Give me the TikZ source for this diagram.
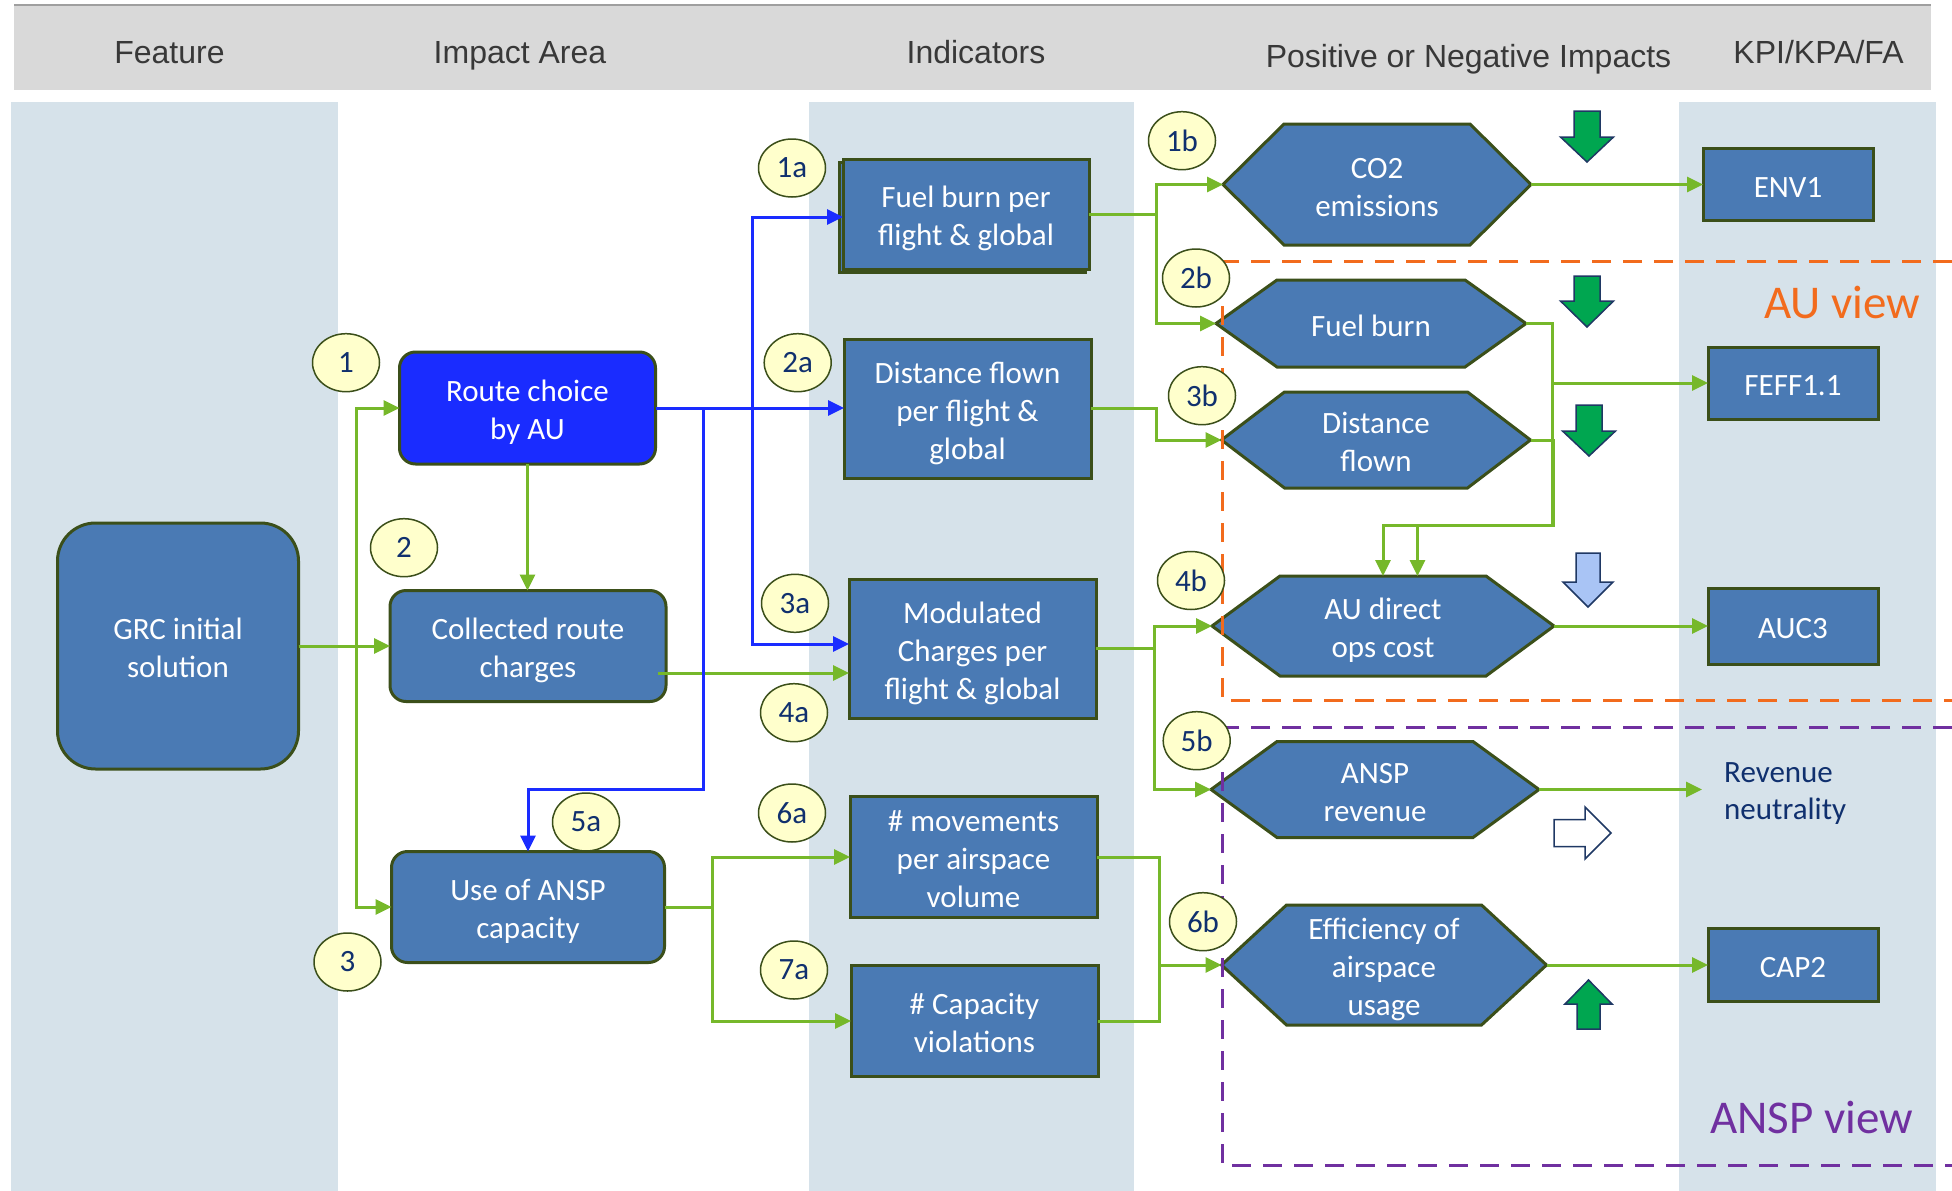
\documentclass[tikz,border=0pt]{standalone}
\usepackage{fontspec}
\setmainfont{Carlito}
\newfontfamily\hdrfont{Liberation Sans}
\usetikzlibrary{arrows.meta,calc,shapes.geometric}

\definecolor{colbg}{HTML}{D6E2EA}
\definecolor{hdrbg}{HTML}{D9D9D9}
\definecolor{boxfill}{HTML}{4A7AB4}
\definecolor{boxedge}{HTML}{3B4F1A}
\definecolor{routeblue}{HTML}{1A2CFF}
\definecolor{linkgreen}{HTML}{76B82A}
\definecolor{linkblue}{HTML}{1A2CFF}
\definecolor{tagfill}{HTML}{FFFFCC}
\definecolor{tagtext}{HTML}{10306E}
\definecolor{auorange}{HTML}{F26B1D}
\definecolor{ansppurple}{HTML}{7030A0}
\definecolor{upgreen}{HTML}{00A650}
\definecolor{arrowedge}{HTML}{1F3864}
\definecolor{paleblue}{HTML}{A9C4F5}
\definecolor{hdrtext}{HTML}{383838}

\pgfdeclarelayer{back}
\pgfdeclarelayer{hex}
\pgfsetlayers{back,hex,main}

% uniform line boxes for the text inside boxes and hexagons
\newcommand\ts{\rule{0pt}{31pt}}
\newcommand\bs{\rule[-6pt]{0pt}{6pt}}

% hexagon outline around a (borderless) text node; #2 = horizontal inset of the corners
\newcommand\hexframe[2]{%
  \begin{pgfonlayer}{hex}
  \path[hexline] (#1.west) -- ($(#1.north west)+(#2,0)$) -- ($(#1.north east)+(-#2,0)$)
     -- (#1.east) -- ($(#1.south east)+(-#2,0)$) -- ($(#1.south west)+(#2,0)$) -- cycle;
  \end{pgfonlayer}}

\tikzset{
  boxtext/.style={text=white, font=\fontsize{31}{38}\selectfont, align=center,
                  inner sep=0pt, outer sep=0pt},
  sbox/.style={boxtext, draw=boxedge, line width=3pt, fill=boxfill},
  rbox/.style={sbox, rounded corners=16pt},
  hexnode/.style={boxtext},
  hexline/.style={draw=boxedge, line width=3pt, fill=boxfill, line join=miter},
  tag/.style={ellipse, draw=boxedge, line width=1.5pt, fill=tagfill, text=tagtext,
              minimum width=67pt, minimum height=58pt, inner sep=0pt,
              font=\fontsize{31}{37}\selectfont},
  glink/.style={draw=linkgreen, line width=3pt},
  garrow/.style={glink, -{Triangle[length=16pt,width=15pt]}},
  blink/.style={draw=linkblue, line width=3pt},
  barrow/.style={blink, -{Triangle[length=16pt,width=15pt]}},
  viewline/.style={line width=3pt, dash pattern=on 19pt off 12pt},
  impact/.style={draw=arrowedge, line width=1.5pt, line join=miter},
  hdr/.style={font=\hdrfont\fontsize{32}{38}\selectfont, text=hdrtext, anchor=base,
              inner sep=0pt},
}

\begin{document}
\begin{tikzpicture}[x=1pt,y=-1pt]
\useasboundingbox (0,0) rectangle (1952,1191);

% ---------- background bands ----------
\begin{pgfonlayer}{back}
  \fill[white] (0,0) rectangle (1952,1191);
  \fill[hdrbg] (14,4) rectangle (1931,90);
  \draw[gray!75, line width=2pt] (14,5) -- (1931,5);
  \fill[colbg] (11,102) rectangle (338,1191);
  \fill[colbg] (809,102) rectangle (1134,1191);
  \fill[colbg] (1679,102) rectangle (1936,1191);
\end{pgfonlayer}

% ---------- column headers ----------
\node[hdr] (hfeature) at (169.5,63) {Feature};
\node[hdr] (himpact)  at (520,63) {Impact Area};
\node[hdr] (hind)     at (976,63) {Indicators};
\node[hdr] (hposneg)  at (1468.5,67) {Positive or Negative Impacts};
\node[hdr] (hkpi)     at (1818.5,63) {KPI/KPA/FA};

% ---------- feature and impact areas ----------
\node[sbox, rounded corners=38pt, minimum width=241pt, minimum height=246pt] (grc) at (178,646) {\ts GRC initial\\solution\bs};
\node[rbox, fill=routeblue, minimum width=256pt, minimum height=112pt] (route) at (527.5,408) {\ts Route choice\\by AU\bs};
\node[rbox, minimum width=276pt, minimum height=111pt] (coll) at (528,646) {\ts Collected route\\charges\bs};
\node[rbox, minimum width=273pt, minimum height=111pt] (use) at (528,907) {\ts Use of ANSP\\capacity\bs};

% ---------- indicators ----------
\node[sbox, minimum width=246pt, minimum height=110pt] (fuelbox) at (966,214) {\ts Fuel burn per\\flight \& global\bs};
\begin{pgfonlayer}{hex}
  \draw[boxedge, line width=3pt, fill=boxfill] ($(fuelbox.north west)+(-4,3)$) rectangle ($(fuelbox.south east)+(-4,3)$);
\end{pgfonlayer}
\node[sbox, minimum width=247pt, minimum height=139pt] (distbox) at (967.5,408.5) {\ts Distance flown\\per flight \&\\global\bs};
\node[sbox, minimum width=247pt, minimum height=139pt] (modbox) at (972.5,648.5) {\ts Modulated\\Charges per\\flight \& global\bs};
\node[sbox, minimum width=247pt, minimum height=121pt] (movbox) at (973.5,857) {\ts\# movements\\per airspace\\volume\bs};
\node[sbox, minimum width=247pt, minimum height=111pt] (capbox) at (974.5,1021) {\ts\# Capacity\\violations\bs};

% ---------- impacts (hexagons) ----------
\node[hexnode, minimum width=308pt, minimum height=121pt] (co2) at (1377,184.5) {\ts CO2\\emissions\bs};
\hexframe{co2}{61}
\node[hexnode, minimum width=310pt, minimum height=87pt] (fuelhex) at (1371,323.5) {\ts Fuel burn\bs};
\hexframe{fuelhex}{61}
\node[hexnode, minimum width=309pt, minimum height=96pt] (disthex) at (1376,440) {\ts Distance\\flown\bs};
\hexframe{disthex}{63}
\node[hexnode, minimum width=342pt, minimum height=100pt] (aucost) at (1383,626) {\ts AU direct\\ops cost\bs};
\hexframe{aucost}{68}
\node[hexnode, minimum width=328pt, minimum height=96pt] (ansprev) at (1375,789.5) {\ts ANSP\\revenue\bs};
\hexframe{ansprev}{66}
\node[hexnode, minimum width=325pt, minimum height=120pt] (effic) at (1384,965) {\ts Efficiency of\\airspace\\usage\bs};
\hexframe{effic}{65}

% ---------- KPIs ----------
\node[sbox, minimum width=170pt, minimum height=72pt] (env1) at (1788,184.5) {\ts ENV1\bs};
\node[sbox, minimum width=170pt, minimum height=72pt] (feff) at (1793,383) {\ts FEFF1.1\bs};
\node[sbox, minimum width=170pt, minimum height=76pt] (auc3) at (1793,626) {\ts AUC3\bs};
\node[sbox, minimum width=170pt, minimum height=73pt] (cap2) at (1793,965) {\ts CAP2\bs};
\node[font=\fontsize{31}{37}\selectfont, text=tagtext, align=left, anchor=west, inner sep=0pt] (revn) at (1724,794) {Revenue\\neutrality};

% ---------- positive / negative impact arrows ----------
\path[impact, fill=upgreen] (1574,111) -- (1600,111) -- (1600,137) -- (1613.5,137) -- (1587,162) -- (1560.5,137) -- (1574,137) -- cycle;
\path[impact, fill=upgreen] (1574,276) -- (1600,276) -- (1600,301) -- (1613.5,301) -- (1587,327) -- (1560.5,301) -- (1574,301) -- cycle;
\path[impact, fill=upgreen] (1576,405) -- (1602,405) -- (1602,431) -- (1615.5,431) -- (1589,456) -- (1562.5,431) -- (1576,431) -- cycle;
\path[impact, fill=paleblue] (1576,553) -- (1600,553) -- (1600,582) -- (1613,582) -- (1588,607) -- (1563,582) -- (1576,582) -- cycle;
\path[impact, fill=white] (1554,819.5) -- (1585,819.5) -- (1585,807) -- (1611,833) -- (1585,859) -- (1585,846.5) -- (1554,846.5) -- cycle;
\path[impact, fill=upgreen] (1577,1029) -- (1600,1029) -- (1600,1004) -- (1612,1004) -- (1588.5,980) -- (1565,1004) -- (1577,1004) -- cycle;

% ---------- stakeholder views ----------
\draw[viewline, auorange] (1952,261) -- (1222,261) -- (1222,700) -- (1952,700);
\draw[viewline, ansppurple] (1952,727) -- (1222,727) -- (1222,1165) -- (1952,1165);
\node[anchor=base west, inner sep=0pt, text=auorange, font=\fontsize{47}{56}\selectfont] (auview) at (1764,318) {AU view};
\node[anchor=base west, inner sep=0pt, text=ansppurple, font=\fontsize{47}{56}\selectfont] (anspview) at (1710,1133) {ANSP view};

% ---------- green links ----------
\draw[garrow] (grc.east) -- (grc.east -| coll.west);
\draw[garrow] (grc.east) -- ++(58,0) |- (route.west);
\draw[garrow] (grc.east) -- ++(58,0) |- (use.west);
\draw[garrow] (route.south) -- (route.south |- coll.north);
\coordinate (collout) at ($(coll.east)+(-8,27)$);
\draw[garrow] (collout) -- (collout -| modbox.west);
\draw[garrow] (use.east) -- ++(47.5,0) |- (movbox.west);
\draw[garrow] (use.east) -- ++(47.5,0) |- (capbox.west);

\draw[garrow] (fuelbox.east) -- ++(67,0) |- (co2.west);
\draw[garrow] (fuelbox.east) -- ++(67,0) |- (fuelhex.west);
\draw[garrow] (distbox.east) -- ++(65,0) |- (disthex.west);
\draw[garrow] (modbox.east) -- ++(58,0) |- (aucost.west);
\draw[garrow] (modbox.east) -- ++(58,0) |- (ansprev.west);
\coordinate (effjoin) at (1159,965);
\draw[glink] (movbox.east) -| (effjoin) |- (capbox.east);
\draw[garrow] (effjoin) -- (effic.west);

\draw[garrow] (co2.east) -- (env1.west);
\draw[garrow] (fuelhex.east) -- ++(26,0) |- (feff.west);
\draw[garrow] (fuelhex.east) -- ++(26,0) -- ++(0,201.5) -| (aucost.north);
\draw[garrow] (disthex.east) -- ++(23,0) -- ++(0,85) -| ($(aucost.north)+(34.5,0)$);
\draw[garrow] (aucost.east) -- (auc3.west);
\draw[garrow] (ansprev.east) -- ($(revn.west |- ansprev.east)+(-22,0)$);
\draw[garrow] (effic.east) -- (cap2.west);

% ---------- blue links ----------
\draw[barrow] (route.east) -- (route.east -| distbox.west);
\draw[barrow] (route.east) -- ++(97,0) |- ($(fuelbox.west)+(0,3)$);
\draw[barrow] (route.east) -- ++(97,0) |- ($(modbox.west)+(0,-4.5)$);
\draw[barrow] (route.east) -- ++(47.5,0) -- ++(0,381) -| (use.north);

% ---------- numbered tags ----------
\node[tag] (t1)  at (346,362.7) {1};
\node[tag] (t2)  at (404,547.7) {2};
\node[tag] (t3)  at (347.5,962) {3};
\node[tag] (t1a) at (792,168) {1a};
\node[tag] (t2a) at (797.7,362.7) {2a};
\node[tag] (t3a) at (795,603.3) {3a};
\node[tag] (t4a) at (794,712.7) {4a};
\node[tag] (t5a) at (586,822) {5a};
\node[tag] (t6a) at (792,813) {6a};
\node[tag] (t7a) at (794,970) {7a};
\node[tag] (t1b) at (1182,140.7) {1b};
\node[tag] (t2b) at (1196,278) {2b};
\node[tag] (t3b) at (1202,395.7) {3b};
\node[tag] (t4b) at (1191,580.5) {4b};
\node[tag] (t5b) at (1196.7,740.7) {5b};
\node[tag] (t6b) at (1203,921.7) {6b};
\end{tikzpicture}
\end{document}
